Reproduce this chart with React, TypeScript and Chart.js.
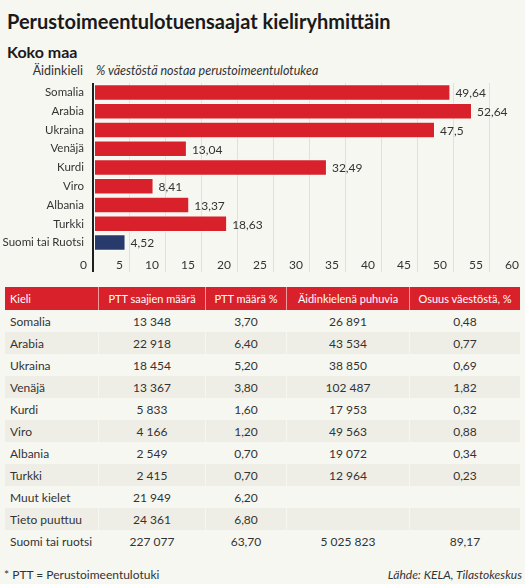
import React, { useEffect, useRef } from "react";
import { Chart, registerables } from "chart.js";

Chart.register(...registerables);

const FONT = "Lato, 'Open Sans', sans-serif";
const FS = 12;

// Chart data
const categories = [
  "Somalia",
  "Arabia",
  "Ukraina",
  "Venäjä",
  "Kurdi",
  "Viro",
  "Albania",
  "Turkki",
  "Suomi tai Ruotsi",
];
const shareOfPopulationReceiving = [49.64, 52.64, 47.5, 13.04, 32.49, 8.41, 13.37, 18.63, 4.52];
const barColors = ["#d9212b", "#d9212b", "#d9212b", "#d9212b", "#d9212b", "#d9212b", "#d9212b", "#d9212b", "#283a6c"];
const xMin = 0;
const xMax = 60;
const xStep = 5;

// Table data
const tableHeaders = ["Kieli", "PTT saajien määrä", "PTT määrä %", "Äidinkielenä puhuvia", "Osuus väestöstä, %"];
const tableLanguages = [
  "Somalia",
  "Arabia",
  "Ukraina",
  "Venäjä",
  "Kurdi",
  "Viro",
  "Albania",
  "Turkki",
  "Muut kielet",
  "Tieto puuttuu",
  "Suomi tai ruotsi",
];
const pttRecipients = ["13 348", "22 918", "18 454", "13 367", "5 833", "4 166", "2 549", "2 415", "21 949", "24 361", "227 077"];
const pttShare = ["3,70", "6,40", "5,20", "3,80", "1,60", "1,20", "0,70", "0,70", "6,20", "6,80", "63,70"];
const nativeSpeakers = ["26 891", "43 534", "38 850", "102 487", "17 953", "49 563", "19 072", "12 964", "", "", "5 025 823"];
const populationShare = ["0,48", "0,77", "0,69", "1,82", "0,32", "0,88", "0,34", "0,23", "", "", "89,17"];

const fmt = (v: number) => String(v).replace(".", ",");

const colWidths = [93, 107, 81, 123, 111];

export default function App() {
  const canvasRef = useRef<HTMLCanvasElement | null>(null);

  useEffect(() => {
    if (!canvasRef.current) return;
    const valueLabels = {
      id: "valueLabels",
      afterDatasetsDraw(chart: any) {
        const ctx = chart.ctx;
        const meta = chart.getDatasetMeta(0);
        ctx.save();
        ctx.font = `12px ${FONT}`;
        ctx.fillStyle = "#333";
        ctx.textBaseline = "middle";
        ctx.textAlign = "left";
        meta.data.forEach((bar: any, i: number) => {
          ctx.fillText(fmt(shareOfPopulationReceiving[i]), bar.x + 5, bar.y + 1);
        });
        ctx.restore();
      },
    };
    const chart = new Chart(canvasRef.current, {
      type: "bar",
      data: {
        labels: categories,
        datasets: [
          {
            data: shareOfPopulationReceiving,
            backgroundColor: barColors,
            borderColor: "rgba(255,255,255,0.55)",
            borderWidth: 1,
            borderSkipped: false,
            categoryPercentage: 0.88,
            barPercentage: 1,
          },
        ],
      },
      options: {
        animation: false,
        responsive: false,
        maintainAspectRatio: false,
        indexAxis: "y",
        layout: { padding: { top: 3, left: 0, right: 0, bottom: 0 } },
        plugins: { legend: { display: false }, tooltip: { enabled: false } },
        scales: {
          x: {
            min: xMin,
            max: xMax,
            position: "bottom",
            ticks: {
              stepSize: xStep,
              align: "end",
              padding: -14,
              color: "#333",
              font: { family: FONT, size: 12 },
              callback: (v: any) => String(v) + "  ",
            },
            grid: {
              color: (c: any) => (c.tick && c.tick.value === 0 ? "#1e1e1e" : "#e0e0dc"),
              lineWidth: (c: any) => (c.tick && c.tick.value === 0 ? 2 : 1),
              tickLength: 20,
            },
            border: { display: false },
            afterFit: (s: any) => {
              s.height = 28;
              s.paddingLeft = 0;
              s.paddingRight = 0;
            },
          },
          y: {
            ticks: { autoSkip: false, padding: 9, color: "#333", font: { family: FONT, size: 11.5 } },
            grid: { display: false, drawTicks: false },
            border: { display: false },
            afterFit: (s: any) => {
              s.width = 93;
              s.paddingTop = 0;
              s.paddingBottom = 0;
            },
          },
        },
      },
      plugins: [valueLabels],
    });
    return () => chart.destroy();
  }, []);

  const rowBg = (i: number) => (i % 2 === 1 ? "#efeee6" : "transparent");

  return (
    <div
      style={{
        position: "relative",
        width: 525,
        height: 584,
        background: "#f7f7f2",
        overflow: "hidden",
        fontFamily: FONT,
        color: "#333",
      }}
    >
      <style>{`body{margin:0;background:#f7f7f2}`}</style>
      <div
        style={{
          position: "absolute",
          left: 7,
          top: 9,
          fontSize: 20,
          fontWeight: 700,
          lineHeight: "24px",
          color: "#1a1a1a",
          whiteSpace: "nowrap",
        }}
      >
        Perustoimeentulotuensaajat kieliryhmittäin
      </div>
      <div
        style={{
          position: "absolute",
          left: 7,
          top: 42,
          fontSize: 16,
          fontWeight: 700,
          lineHeight: "20px",
          color: "#1a1a1a",
        }}
      >
        Koko maa
      </div>
      <div
        style={{
          position: "absolute",
          right: 525 - 83,
          top: 63,
          fontSize: 12.5,
          lineHeight: "16px",
          whiteSpace: "nowrap",
        }}
      >
        Äidinkieli
      </div>
      <div
        style={{
          position: "absolute",
          left: 96,
          top: 63,
          fontSize: 12.5,
          lineHeight: "16px",
          fontStyle: "italic",
          whiteSpace: "nowrap",
        }}
      >
        % väestöstä nostaa perustoimeentulotukea
      </div>
      <canvas
        ref={canvasRef}
        width={525}
        height={200}
        style={{ position: "absolute", left: 0, top: 80, width: 525, height: 200 }}
      />
      <table
        style={{
          position: "absolute",
          left: 5,
          top: 287,
          width: 515,
          borderCollapse: "separate",
          borderSpacing: 0,
          fontSize: FS,
          tableLayout: "fixed",
        }}
      >
        <colgroup>
          {colWidths.map((w, i) => (
            <col key={i} style={{ width: w }} />
          ))}
        </colgroup>
        <thead>
          <tr style={{ height: 23, background: "#d9212b", color: "#fff" }}>
            {tableHeaders.map((h, i) => (
              <th
                key={h}
                style={{
                  fontWeight: 400,
                  fontSize: 11,
                  textAlign: i === 0 ? "left" : "center",
                  padding: i === 0 ? "0 0 0 5px" : 0,
                  borderLeft: i === 0 ? "none" : "1px solid rgba(255,255,255,0.55)",
                  whiteSpace: "nowrap",
                }}
              >
                {h}
              </th>
            ))}
          </tr>
        </thead>
        <tbody>
          {tableLanguages.map((lang, r) => {
            const cells = [lang, pttRecipients[r], pttShare[r], nativeSpeakers[r], populationShare[r]];
            return (
              <tr key={lang} style={{ height: 22, background: rowBg(r) }}>
                {cells.map((c, i) => (
                  <td
                    key={i}
                    style={{
                      textAlign: i === 0 ? "left" : "center",
                      padding: i === 0 ? "0 0 0 5px" : 0,
                      borderLeft: i === 0 ? "none" : "1px solid #f7f7f2",
                      whiteSpace: "nowrap",
                    }}
                  >
                    {c}
                  </td>
                ))}
              </tr>
            );
          })}
        </tbody>
      </table>
      <div style={{ position: "absolute", left: 4, top: 567, fontSize: 12, lineHeight: "16px" }}>
        * PTT = Perustoimeentulotuki
      </div>
      <div
        style={{
          position: "absolute",
          right: 3,
          top: 567,
          fontSize: 12,
          lineHeight: "16px",
          fontStyle: "italic",
        }}
      >
        Lähde: KELA, Tilastokeskus
      </div>
    </div>
  );
}
